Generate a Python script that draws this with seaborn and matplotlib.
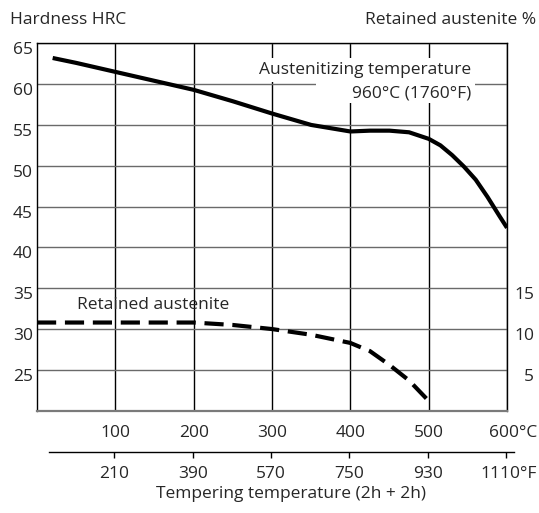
import numpy as np
import pandas as pd
import matplotlib
matplotlib.use("Agg")
import matplotlib.pyplot as plt
import matplotlib.transforms as mtransforms
from matplotlib.patches import Rectangle
import seaborn as sns

# ---- data ----
hard_temp = [20, 50, 100, 150, 200, 250, 300, 350, 400, 425, 450, 475, 500, 515, 530, 545, 560, 575, 590, 600]
hard_hrc = [63.2, 62.6, 61.5, 60.4, 59.3, 57.9, 56.4, 55.0, 54.2, 54.3, 54.3, 54.1, 53.3, 52.5, 51.3, 49.9, 48.3, 46.2, 43.9, 42.4]

ra_temp = [0, 100, 200, 250, 300, 350, 400, 425, 450, 475, 500]
ra_pct = [10.8, 10.8, 10.8, 10.5, 10.0, 9.3, 8.3, 7.3, 5.6, 3.7, 1.2]

c_ticks = [100, 200, 300, 400, 500, 600]
c_labels = ["100", "200", "300", "400", "500", "600°C"]
f_ticks = [210, 390, 570, 750, 930, 1110]
f_labels = ["210", "390", "570", "750", "930", "1110°F"]
hrc_ticks = [25, 30, 35, 40, 45, 50, 55, 60, 65]
ra_ticks = [5, 10, 15]

sns.set_style("white")
plt.rcParams["font.family"] = ["Open Sans", "DejaVu Sans"]
plt.rcParams["font.size"] = 12.5

W, H = 539, 513
fig = plt.figure(figsize=(W / 100, H / 100), dpi=100)
ax = fig.add_axes([37 / W, 1 - 410.7 / H, 470 / W, 367.4 / H])

def shift(label, dx, dy):
    label.set_transform(label.get_transform() +
                        mtransforms.ScaledTranslation(dx / 100, dy / 100, fig.dpi_scale_trans))

df_h = pd.DataFrame({"T": hard_temp, "HRC": hard_hrc})
sns.lineplot(data=df_h, x="T", y="HRC", ax=ax, color="black", linewidth=3.0,
             solid_capstyle="butt", zorder=5)
ax.set_xlim(0, 600)
ax.set_ylim(20, 65)
ax.set_xlabel("")
ax.set_ylabel("")

# grid
ax.set_xticks(c_ticks)
ax.set_xticklabels(c_labels)
ax.set_yticks(hrc_ticks)
ax.set_yticklabels([str(v) for v in hrc_ticks])
ax.xaxis.grid(True, color="black", linewidth=1.0)
ax.yaxis.grid(True, color="#6a6a6a", linewidth=1.0)
ax.set_axisbelow(True)
ax.tick_params(axis="both", length=0)
ax.tick_params(axis="y", pad=3)
ax.tick_params(axis="x", pad=10)
for s in ["left", "top", "right"]:
    ax.spines[s].set_color("black")
    ax.spines[s].set_linewidth(1.0)
ax.spines["bottom"].set_color("#7a7a7a")
ax.spines["bottom"].set_linewidth(1.6)

for lab in ax.get_yticklabels():
    shift(lab, 0, -5)
xl = ax.get_xticklabels()
xl[-1].set_horizontalalignment("right")
shift(xl[-1], 30, 0)

# retained austenite on twin axis
ax2 = ax.twinx()
df_r = pd.DataFrame({"T": ra_temp, "RA": ra_pct})
sns.lineplot(data=df_r, x="T", y="RA", ax=ax2, color="black", linewidth=3.0)
ax2.lines[0].set_linestyle((0, (4.6, 2.1)))
ax2.lines[0].set_dash_capstyle("butt")
ax2.set_ylim(0, 45)
ax2.set_xlim(0, 600)
ax2.set_ylabel("")
ax2.set_xlabel("")
ax2.set_yticks(ra_ticks)
ax2.set_yticklabels([str(v) for v in ra_ticks])
ax2.tick_params(axis="y", length=0, pad=19.5)
for lab in ax2.get_yticklabels():
    lab.set_horizontalalignment("right")
    shift(lab, 0, -5)
for s in ax2.spines.values():
    s.set_visible(False)

# annotations (white backgrounds hide the grid behind the label)
ax.add_patch(Rectangle((282, 60.26), 277, 2.95, facecolor="white", edgecolor="none", zorder=2))
ax.add_patch(Rectangle((356, 57.7), 203, 2.6, facecolor="white", edgecolor="none", zorder=2))
ax2.text(51, 12.95, "Retained austenite", ha="left", va="center")
ax.text(554, 61.7, "Austenitizing temperature", ha="right", va="center", zorder=3)
ax.text(554, 58.9, "960°C (1760°F)", ha="right", va="center", zorder=3)

# Fahrenheit axis
c2f = lambda c: np.asarray(c) * 1.8 + 32
f2c = lambda f: (np.asarray(f) - 32) / 1.8
sec = ax.secondary_xaxis(-0.112, functions=(c2f, f2c))
sec.set_xticks(f_ticks)
sec.set_xticklabels(f_labels)
sec.tick_params(axis="x", direction="out", length=4, width=1.0, color="black", pad=6)
sec.spines["bottom"].set_bounds(59.6, 1128)
sec.spines["bottom"].set_linewidth(1.0)
sec.spines["bottom"].set_color("black")
fl = sec.get_xticklabels()
fl[-1].set_horizontalalignment("right")
shift(fl[-1], 31, 0)
sec.set_xlabel("Tempering temperature (2h + 2h)", labelpad=3)
sec.xaxis.label.set_x(0.54)

fig.text(10 / W, 1 - 20 / H, "Hardness HRC", ha="left", va="center")
fig.text(536 / W, 1 - 20 / H, "Retained austenite %", ha="right", va="center")

fig.savefig("out.png", dpi=100)
